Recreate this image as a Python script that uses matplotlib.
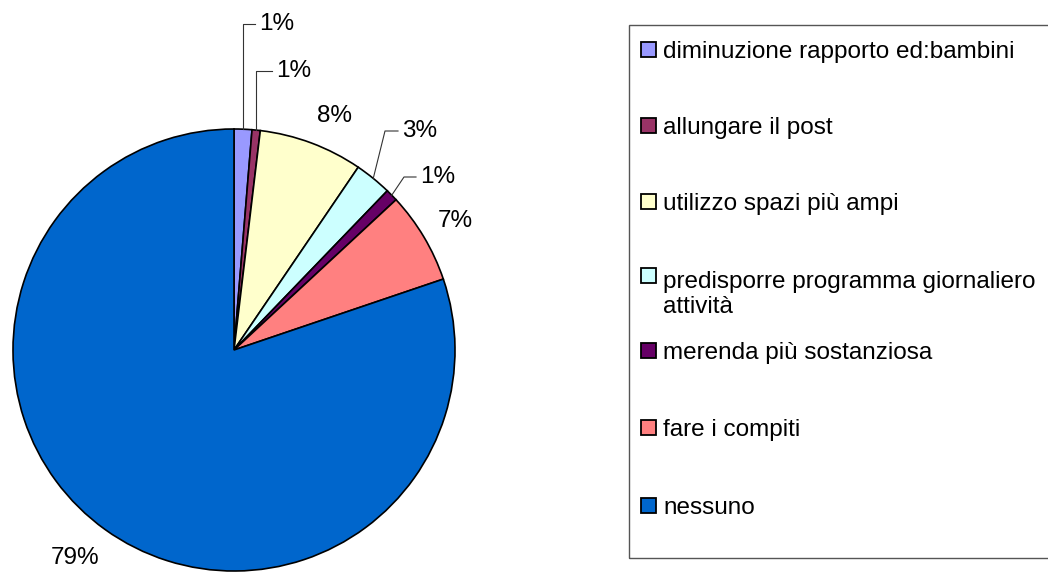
import matplotlib
matplotlib.use("Agg")
import matplotlib.pyplot as plt  # noqa: E402
from matplotlib.patches import Rectangle  # noqa: E402
import numpy as np  # noqa: E402

plt.rcParams["font.family"] = ["Liberation Sans", "DejaVu Sans"]

categories = [
    "diminuzione rapporto ed:bambini",
    "allungare il post",
    "utilizzo spazi più ampi",
    "predisporre programma giornaliero\nattività",
    "merenda più sostanziosa",
    "fare i compiti",
    "nessuno",
]
shares = [1.3, 0.6, 7.6, 2.7, 0.9, 6.7, 80.2]
pct_labels = ["1%", "1%", "8%", "3%", "1%", "7%", "79%"]
colors = ["#9999FF", "#993366", "#FFFFCC", "#CCFFFF", "#660066", "#FF8080", "#0066CC"]

W, H = 1048, 576
CX, CY, R = 234, 350, 221
FS = 17.5
LINE_PX = FS * 1.2 * 100 / 72


def px(x, y):
    # pixel position in the image -> pie data coords
    return (x - CX) / R, (CY - y) / R


fig = plt.figure(figsize=(W / 100, H / 100), dpi=100)
ax = fig.add_axes([(CX - R) / W, (H - CY - R) / H, 2 * R / W, 2 * R / H])
wedges, _ = ax.pie(shares, colors=colors, startangle=90, counterclock=False,
                   wedgeprops=dict(edgecolor="black", linewidth=1.2))
ax.set_xlim(-1, 1)
ax.set_ylim(-1, 1)
ax.axis("off")

# label layout: (text pos in px, ha, leader elbow)
layout = [
    ((259, 24), "left", "vert"),
    ((276, 71), "left", "vert"),
    ((335, 116), "center", None),
    ((402, 131), "left", (385, 131)),
    ((420, 177), "left", (404, 177)),
    ((455, 221), "center", None),
    ((75, 558), "center", None),
]
for w, lab, (tpos, ha, lead) in zip(wedges, pct_labels, layout):
    mid = np.deg2rad((w.theta1 + w.theta2) / 2)
    rx, ry = np.cos(mid), np.sin(mid)
    tx, ty = px(*tpos)
    if lead == "vert":
        pts = [(rx, ry), (rx, ty), (tx - 4 / R, ty)]
    elif lead is not None:
        ex, ey = px(*lead)
        pts = [(rx, ry), (ex, ey), (tx - 4 / R, ty)]
    else:
        pts = None
    if pts:
        xs, ys = zip(*pts)
        ax.plot(xs, ys, color="#333333", lw=0.8, clip_on=False)
    ax.text(tx, ty, lab, ha=ha, va="center", fontsize=FS, clip_on=False)

# legend box drawn by hand (Excel style, handle aligned to first line)
fig.patches.append(Rectangle((629 / W, (H - 558) / H), 430 / W, 533 / H,
                             transform=fig.transFigure, fill=False,
                             edgecolor="#555555", linewidth=1.0))
baselines = [58, 134, 210, 284, 359, 436, 514]
for name, c, b in zip(categories, colors, baselines):
    fig.patches.append(Rectangle((641 / W, (H - b + 1) / H), 15 / W, 15 / H,
                                 transform=fig.transFigure, facecolor=c,
                                 edgecolor="black", linewidth=1.3))
    last = b + name.count("\n") * LINE_PX
    fig.text(663 / W, (H - last) / H, name, ha="left", va="baseline",
             fontsize=FS, linespacing=1.2)

fig.savefig("out.png", dpi=100)
